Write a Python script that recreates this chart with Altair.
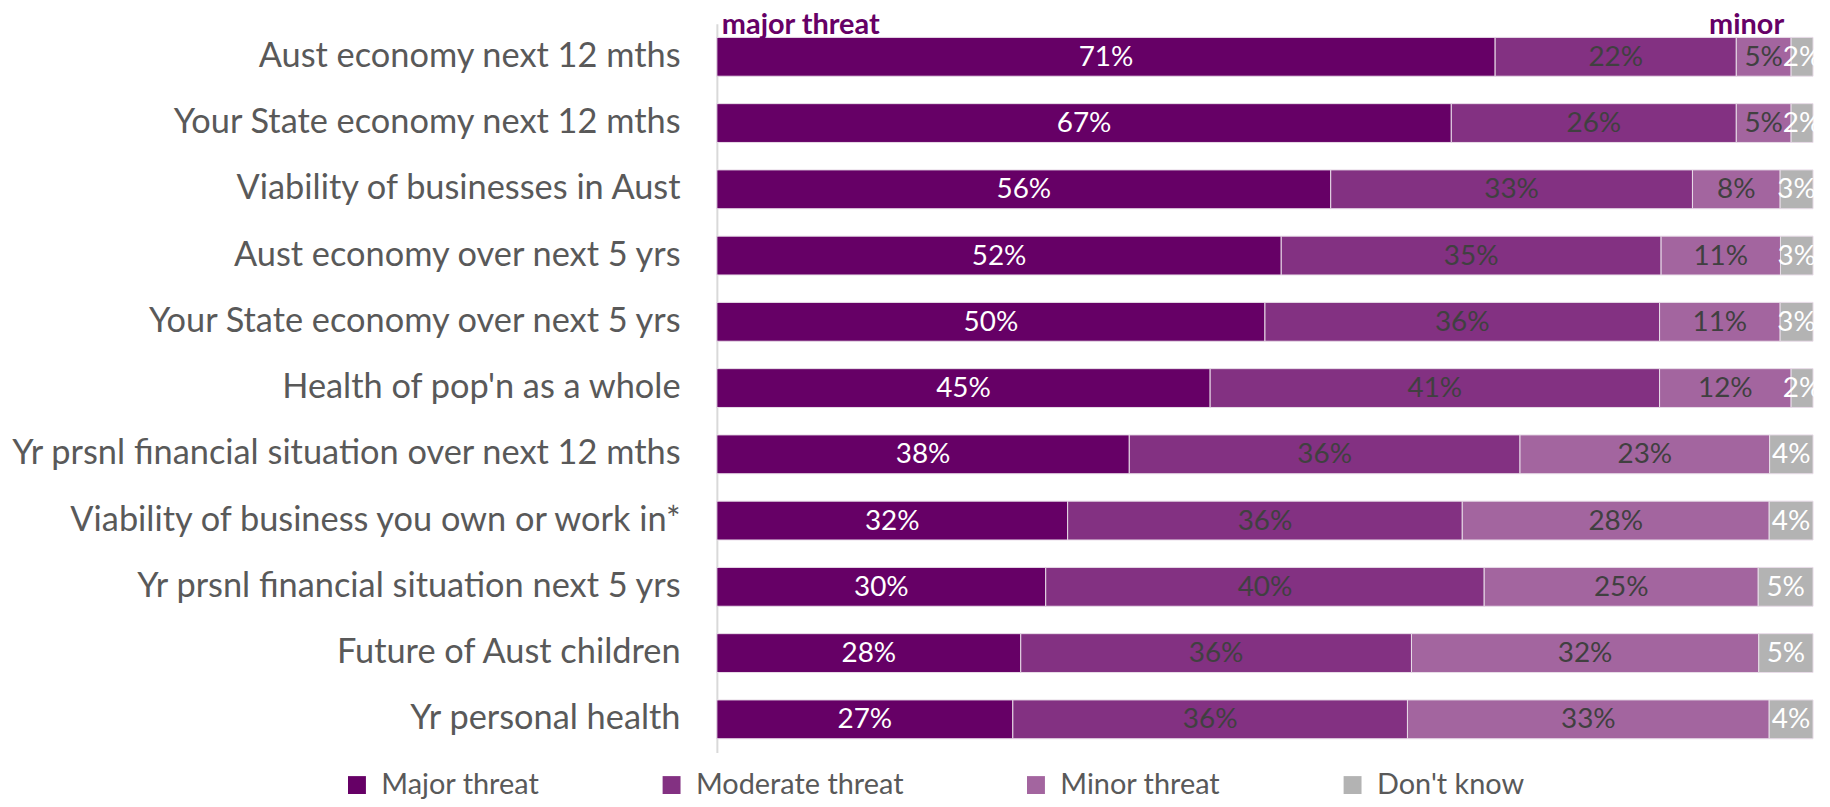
import altair as alt
import pandas as pd

items = [
    "Aust economy next 12 mths",
    "Your State economy next 12 mths",
    "Viability of businesses in Aust",
    "Aust economy over next 5 yrs",
    "Your State economy over next 5 yrs",
    "Health of pop'n as a whole",
    "Yr prsnl financial situation over next 12 mths",
    "Viability of business you own or work in*",
    "Yr prsnl financial situation next 5 yrs",
    "Future of Aust children",
    "Yr personal health",
]
categories = ["Major threat", "Moderate threat", "Minor threat", "Don't know"]
major = [71, 67, 56, 52, 50, 45, 38, 32, 30, 28, 27]
moderate = [22, 26, 33, 35, 36, 41, 36, 36, 40, 36, 36]
minor = [5, 5, 8, 11, 11, 12, 23, 28, 25, 32, 33]
dont_know = [2, 2, 3, 3, 3, 2, 4, 4, 5, 5, 4]

colors = ["#660066", "#833182", "#A3659F", "#B3B3B3"]
text_colors = ["#FFFFFF", "#404040", "#404040", "#FFFFFF"]

rows = []
series = [major, moderate, minor, dont_know]
for ci, cat in enumerate(categories):
    for ii, item in enumerate(items):
        rows.append({"item": item, "cat": cat, "order": ci, "value": series[ci][ii],
                     "tcolor": text_colors[ci], "label": f"{series[ci][ii]}%"})
df = pd.DataFrame(rows)

FONT = "Lato"

base = alt.Chart(df).transform_stack(
    stack="value", groupby=["item"], as_=["x0", "x1"], offset="normalize",
    sort=[alt.SortField("order", "ascending")]
).transform_calculate(mid="(datum.x0 + datum.x1) / 2")

yenc = alt.Y("item:N", sort=items, title=None,
             scale=alt.Scale(paddingInner=0.414, paddingOuter=0.207),
             axis=alt.Axis(labelFont=FONT, labelFontSize=34.5, labelColor="#595959",
                           labelPadding=37, labelLimit=800, ticks=False,
                           domainColor="#D9D9D9", domainWidth=2, grid=False))

xscale = alt.Scale(domain=[0, 1], nice=False, zero=True)

bars = base.mark_bar(stroke="#E8DCE8", strokeWidth=1).encode(
    y=yenc,
    x=alt.X("x0:Q", scale=xscale, axis=None),
    x2="x1:Q",
    color=alt.Color("cat:N", sort=categories,
                    scale=alt.Scale(domain=categories, range=colors),
                    legend=alt.Legend(title=None, orient="none", direction="horizontal",
                                      legendX=-376, legendY=750,
                                      labelFont=FONT, labelFontSize=29, labelColor="#595959",
                                      symbolType="square", symbolSize=324, symbolStrokeWidth=0,
                                      labelOffset=10, columnPadding=118, labelLimit=400)),
)

texts = base.mark_text(font=FONT, fontSize=28, baseline="middle", align="center", dy=1).encode(
    y=alt.Y("item:N", sort=items),
    x=alt.X("mid:Q", scale=xscale),
    text="label:N",
    color=alt.Color("tcolor:N", scale=None),
)

hdr_df = pd.DataFrame({"t": ["major threat", "minor"], "pos": ["left", "right"]})
hdr_left = alt.Chart(hdr_df).transform_filter("datum.pos == 'left'").mark_text(
    font=FONT, fontSize=29, fontWeight="bold", color="#660066", align="left", baseline="alphabetic"
).encode(x=alt.value(5), y=alt.value(10), text="t:N")
hdr_right = alt.Chart(hdr_df).transform_filter("datum.pos == 'right'").mark_text(
    font=FONT, fontSize=29, fontWeight="bold", color="#660066", align="right", baseline="alphabetic"
).encode(x=alt.value(1072), y=alt.value(10), text="t:N")

chart = alt.layer(bars, texts, hdr_left, hdr_right).properties(
    width=1101, height=732,
    background="white",
    autosize=alt.AutoSizeParams(type="none"),
    padding={"left": 712, "top": 14, "right": 9, "bottom": 45},
).configure_view(strokeWidth=0, stroke="transparent")

chart.save("out.html", embed_options={"renderer": "svg", "actions": False})
